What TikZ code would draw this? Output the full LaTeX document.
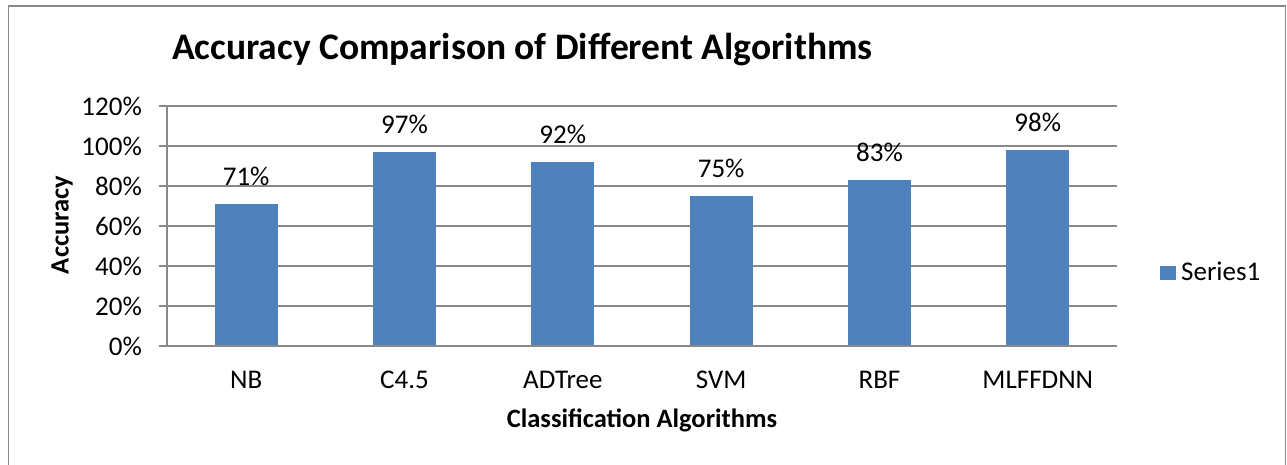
\documentclass[tikz,border=0pt]{standalone}
\usepackage{fontspec}
\setmainfont{Carlito}
\definecolor{barblue}{HTML}{4F81BD}
\definecolor{gridgray}{HTML}{898989}
\tikzset{
  gridline/.style={draw=gridgray, line width=1.6pt},
  ticklab/.style={anchor=east, font=\fontsize{27}{32}\selectfont, inner sep=0pt},
  catlab/.style={anchor=base, font=\fontsize{27}{32}\selectfont, inner sep=0pt},
  vallab/.style={anchor=base, font=\fontsize{27}{32}\selectfont, inner sep=0pt},
  axtitle/.style={font=\bfseries\fontsize{26.5}{32}\selectfont, inner sep=0pt}
}
\begin{document}
\begin{tikzpicture}[x=1pt, y=-1pt]
\useasboundingbox (0,0) rectangle (1287,464);
% chart frame
\draw[draw=gridgray, line width=1.8pt] (8.5,6) rectangle (1285.5,470);
\node[anchor=base west, font=\bfseries\fontsize{37.5}{44}\selectfont, inner sep=0pt] (title) at (172,59) {Accuracy Comparison of Different Algorithms};
% gridlines and y ticks
\foreach \v in {0,20,...,120} {
  \draw[gridline] (159,346-2*\v) -- (1117,346-2*\v);
  \node[ticklab] (tick\v) at (142,346-2*\v) {\v\%};
}
\draw[gridline] (167,106) -- (167,346);
% bars
\foreach \v [count=\i] / \name in {71/NB, 97/C4.5, 92/ADTree, 75/SVM, 83/RBF, 98/MLFFDNN} {
  \fill[barblue] (167+158.33*\i-158.33/2-31.5,346-2*\v) rectangle (167+158.33*\i-158.33/2+31.5,345);
  \node[vallab] (val\i) at (167+158.33*\i-158.33/2,346-2*\v-19) {\v\%};
  \node[catlab] (cat\i) at (167+158.33*\i-158.33/2,388) {\name};
}
\node[axtitle] (xtitle) at (642,420) {Classification Algorithms};
\node[axtitle, rotate=90] (ytitle) at (62,225) {Accuracy};
% legend
\fill[barblue] (1160,266) rectangle (1176,280);
\node[anchor=base west, font=\fontsize{27}{32}\selectfont, inner sep=0pt] (legend) at (1181,280) {Series1};
\end{tikzpicture}
\end{document}
